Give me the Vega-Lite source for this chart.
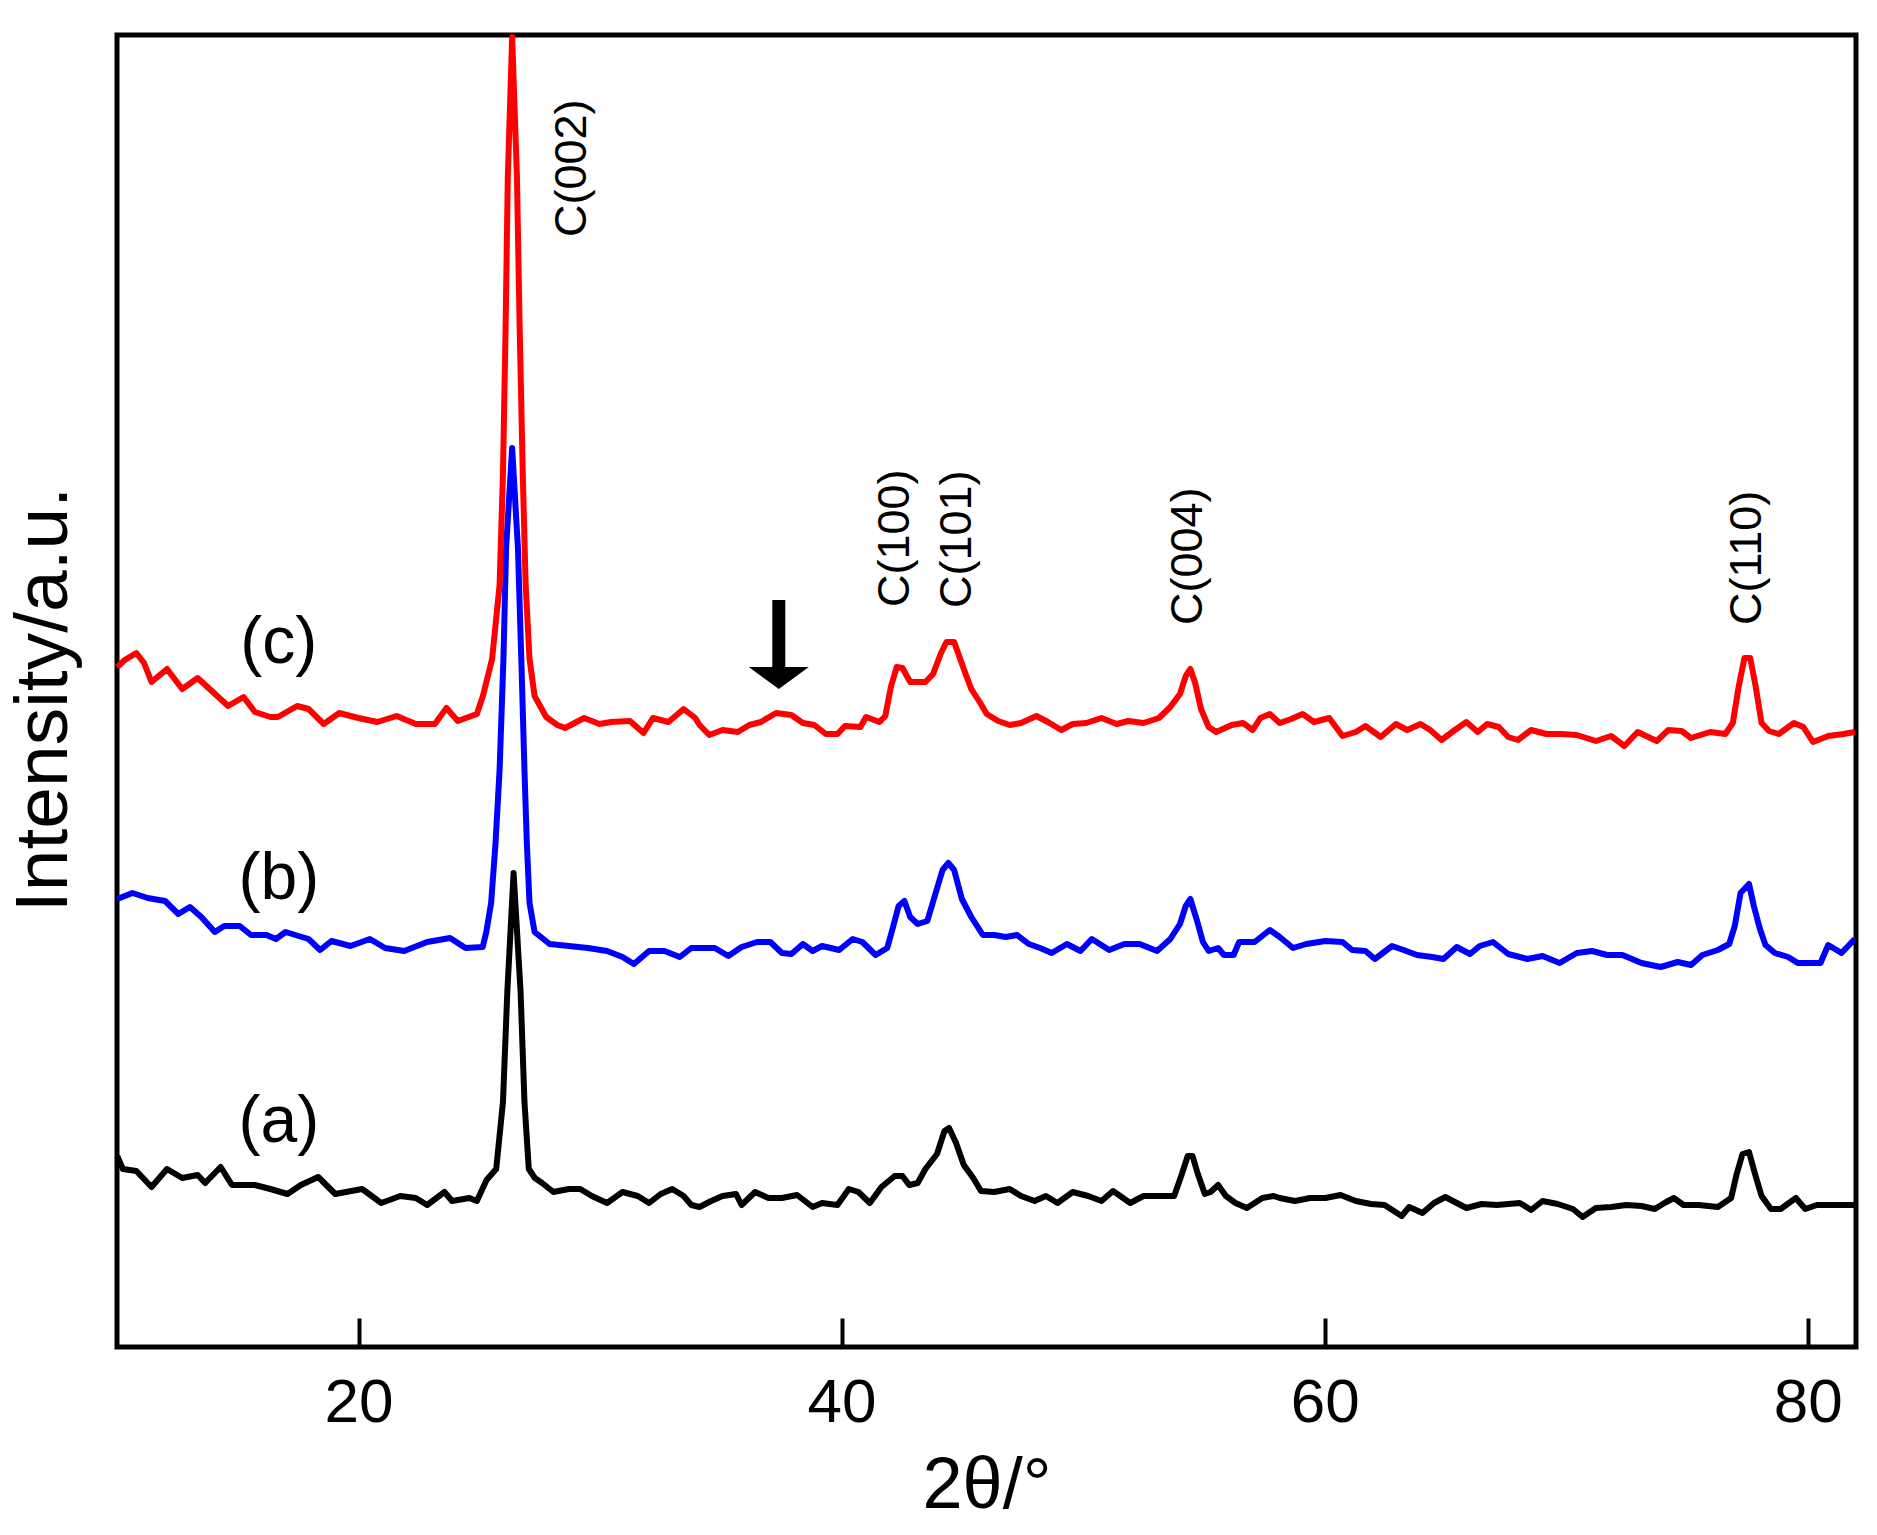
{
  "$schema": "https://vega.github.io/schema/vega-lite/v6.json",
  "description": "XRD patterns of three carbon samples (a), (b), (c)",
  "width": 1739,
  "height": 1312,
  "autosize": {"type": "none"},
  "padding": {"left": 117, "top": 35, "right": 21, "bottom": 188},
  "background": "white",
  "datasets": {
    "xrd": [
      {"s": "a", "x": 10.01, "y": 191}, {"s": "a", "x": 10.24, "y": 178}, {"s": "a", "x": 10.8, "y": 176}, {"s": "a", "x": 11.43, "y": 160},
      {"s": "a", "x": 12.07, "y": 178}, {"s": "a", "x": 12.7, "y": 169}, {"s": "a", "x": 13.34, "y": 172}, {"s": "a", "x": 13.65, "y": 164},
      {"s": "a", "x": 14.29, "y": 180}, {"s": "a", "x": 14.76, "y": 162}, {"s": "a", "x": 15.71, "y": 162}, {"s": "a", "x": 16.35, "y": 158},
      {"s": "a", "x": 17.06, "y": 153}, {"s": "a", "x": 17.61, "y": 162}, {"s": "a", "x": 18.33, "y": 170}, {"s": "a", "x": 19.04, "y": 153},
      {"s": "a", "x": 20.15, "y": 158}, {"s": "a", "x": 20.94, "y": 144}, {"s": "a", "x": 21.73, "y": 151}, {"s": "a", "x": 22.37, "y": 149},
      {"s": "a", "x": 22.84, "y": 142}, {"s": "a", "x": 23.56, "y": 155}, {"s": "a", "x": 23.87, "y": 146}, {"s": "a", "x": 24.59, "y": 149},
      {"s": "a", "x": 24.9, "y": 146}, {"s": "a", "x": 25.3, "y": 167}, {"s": "a", "x": 25.7, "y": 178}, {"s": "a", "x": 25.98, "y": 245},
      {"s": "a", "x": 26.16, "y": 355}, {"s": "a", "x": 26.42, "y": 474}, {"s": "a", "x": 26.71, "y": 355}, {"s": "a", "x": 26.87, "y": 245},
      {"s": "a", "x": 27.05, "y": 178}, {"s": "a", "x": 27.3, "y": 169}, {"s": "a", "x": 27.6, "y": 164},
      {"s": "a", "x": 28.07, "y": 155}, {"s": "a", "x": 28.71, "y": 158}, {"s": "a", "x": 29.18, "y": 158}, {"s": "a", "x": 29.66, "y": 151},
      {"s": "a", "x": 30.29, "y": 144}, {"s": "a", "x": 30.93, "y": 155}, {"s": "a", "x": 31.24, "y": 153}, {"s": "a", "x": 31.56, "y": 151},
      {"s": "a", "x": 32.03, "y": 144}, {"s": "a", "x": 32.51, "y": 153}, {"s": "a", "x": 32.99, "y": 158}, {"s": "a", "x": 33.46, "y": 151},
      {"s": "a", "x": 33.78, "y": 142}, {"s": "a", "x": 34.12, "y": 140}, {"s": "a", "x": 34.6, "y": 146}, {"s": "a", "x": 35.07, "y": 151},
      {"s": "a", "x": 35.63, "y": 153}, {"s": "a", "x": 35.86, "y": 142}, {"s": "a", "x": 36.42, "y": 155}, {"s": "a", "x": 36.97, "y": 149},
      {"s": "a", "x": 37.53, "y": 149}, {"s": "a", "x": 38.16, "y": 152}, {"s": "a", "x": 38.8, "y": 140}, {"s": "a", "x": 39.19, "y": 144},
      {"s": "a", "x": 39.83, "y": 142}, {"s": "a", "x": 40.3, "y": 158}, {"s": "a", "x": 40.7, "y": 155}, {"s": "a", "x": 41.17, "y": 144},
      {"s": "a", "x": 41.65, "y": 160}, {"s": "a", "x": 42.2, "y": 171}, {"s": "a", "x": 42.52, "y": 171}, {"s": "a", "x": 42.8, "y": 162},
      {"s": "a", "x": 43.15, "y": 164}, {"s": "a", "x": 43.47, "y": 178}, {"s": "a", "x": 43.95, "y": 193}, {"s": "a", "x": 44.26, "y": 216},
      {"s": "a", "x": 44.45, "y": 219}, {"s": "a", "x": 44.74, "y": 204}, {"s": "a", "x": 45.06, "y": 182}, {"s": "a", "x": 45.45, "y": 169},
      {"s": "a", "x": 45.77, "y": 156}, {"s": "a", "x": 46.32, "y": 155}, {"s": "a", "x": 46.96, "y": 158}, {"s": "a", "x": 47.43, "y": 151},
      {"s": "a", "x": 47.99, "y": 146}, {"s": "a", "x": 48.46, "y": 151}, {"s": "a", "x": 48.94, "y": 144}, {"s": "a", "x": 49.57, "y": 155},
      {"s": "a", "x": 50.21, "y": 151}, {"s": "a", "x": 50.76, "y": 146}, {"s": "a", "x": 51.24, "y": 156}, {"s": "a", "x": 51.95, "y": 144},
      {"s": "a", "x": 52.5, "y": 151}, {"s": "a", "x": 53.14, "y": 151}, {"s": "a", "x": 53.77, "y": 151}, {"s": "a", "x": 54.09, "y": 173},
      {"s": "a", "x": 54.33, "y": 191}, {"s": "a", "x": 54.53, "y": 191}, {"s": "a", "x": 54.75, "y": 173}, {"s": "a", "x": 55.04, "y": 153},
      {"s": "a", "x": 55.28, "y": 155}, {"s": "a", "x": 55.59, "y": 162}, {"s": "a", "x": 55.91, "y": 151}, {"s": "a", "x": 56.31, "y": 144},
      {"s": "a", "x": 56.78, "y": 139}, {"s": "a", "x": 57.42, "y": 149}, {"s": "a", "x": 57.89, "y": 151}, {"s": "a", "x": 58.14, "y": 149},
      {"s": "a", "x": 58.77, "y": 146}, {"s": "a", "x": 59.4, "y": 149}, {"s": "a", "x": 60.03, "y": 149}, {"s": "a", "x": 60.66, "y": 152},
      {"s": "a", "x": 61.29, "y": 146}, {"s": "a", "x": 61.92, "y": 143}, {"s": "a", "x": 62.48, "y": 142}, {"s": "a", "x": 63.19, "y": 131},
      {"s": "a", "x": 63.5, "y": 140}, {"s": "a", "x": 64.05, "y": 134}, {"s": "a", "x": 64.53, "y": 144}, {"s": "a", "x": 65.0, "y": 150},
      {"s": "a", "x": 65.47, "y": 144}, {"s": "a", "x": 65.87, "y": 139}, {"s": "a", "x": 66.5, "y": 143}, {"s": "a", "x": 67.13, "y": 142},
      {"s": "a", "x": 68.08, "y": 144}, {"s": "a", "x": 68.55, "y": 137}, {"s": "a", "x": 69.02, "y": 146}, {"s": "a", "x": 69.65, "y": 143},
      {"s": "a", "x": 70.28, "y": 138}, {"s": "a", "x": 70.68, "y": 130}, {"s": "a", "x": 71.23, "y": 139}, {"s": "a", "x": 71.86, "y": 140},
      {"s": "a", "x": 72.49, "y": 142}, {"s": "a", "x": 73.12, "y": 141}, {"s": "a", "x": 73.67, "y": 138}, {"s": "a", "x": 74.07, "y": 144},
      {"s": "a", "x": 74.46, "y": 149}, {"s": "a", "x": 74.86, "y": 142}, {"s": "a", "x": 75.49, "y": 142}, {"s": "a", "x": 76.28, "y": 140},
      {"s": "a", "x": 76.83, "y": 149}, {"s": "a", "x": 77.06, "y": 173}, {"s": "a", "x": 77.3, "y": 193}, {"s": "a", "x": 77.57, "y": 195},
      {"s": "a", "x": 77.82, "y": 173}, {"s": "a", "x": 78.09, "y": 151}, {"s": "a", "x": 78.48, "y": 138}, {"s": "a", "x": 78.88, "y": 138},
      {"s": "a", "x": 79.51, "y": 149}, {"s": "a", "x": 79.9, "y": 138}, {"s": "a", "x": 80.38, "y": 142}, {"s": "a", "x": 81.16, "y": 142},
      {"s": "a", "x": 81.95, "y": 142},

      {"s": "b", "x": 10.01, "y": 448}, {"s": "b", "x": 10.64, "y": 454}, {"s": "b", "x": 11.27, "y": 449}, {"s": "b", "x": 11.99, "y": 446},
      {"s": "b", "x": 12.54, "y": 433}, {"s": "b", "x": 13.02, "y": 440}, {"s": "b", "x": 13.49, "y": 430}, {"s": "b", "x": 14.05, "y": 415},
      {"s": "b", "x": 14.44, "y": 421}, {"s": "b", "x": 15.08, "y": 421}, {"s": "b", "x": 15.55, "y": 412}, {"s": "b", "x": 16.19, "y": 412},
      {"s": "b", "x": 16.58, "y": 408}, {"s": "b", "x": 16.98, "y": 415}, {"s": "b", "x": 17.93, "y": 408}, {"s": "b", "x": 18.41, "y": 397},
      {"s": "b", "x": 18.88, "y": 406}, {"s": "b", "x": 19.67, "y": 401}, {"s": "b", "x": 20.47, "y": 408}, {"s": "b", "x": 21.1, "y": 399},
      {"s": "b", "x": 21.89, "y": 396}, {"s": "b", "x": 22.84, "y": 405}, {"s": "b", "x": 23.79, "y": 409}, {"s": "b", "x": 24.43, "y": 399},
      {"s": "b", "x": 25.14, "y": 400}, {"s": "b", "x": 25.29, "y": 415}, {"s": "b", "x": 25.49, "y": 444}, {"s": "b", "x": 25.67, "y": 503},
      {"s": "b", "x": 25.84, "y": 577}, {"s": "b", "x": 26.0, "y": 688}, {"s": "b", "x": 26.11, "y": 799}, {"s": "b", "x": 26.36, "y": 899},
      {"s": "b", "x": 26.6, "y": 799}, {"s": "b", "x": 26.74, "y": 688}, {"s": "b", "x": 26.87, "y": 577}, {"s": "b", "x": 26.97, "y": 503},
      {"s": "b", "x": 27.08, "y": 444}, {"s": "b", "x": 27.29, "y": 415}, {"s": "b", "x": 27.91, "y": 403}, {"s": "b", "x": 28.71, "y": 401},
      {"s": "b", "x": 29.5, "y": 399},
      {"s": "b", "x": 30.29, "y": 396}, {"s": "b", "x": 30.93, "y": 390}, {"s": "b", "x": 31.4, "y": 383}, {"s": "b", "x": 32.03, "y": 396},
      {"s": "b", "x": 32.67, "y": 396}, {"s": "b", "x": 33.3, "y": 390}, {"s": "b", "x": 33.78, "y": 399}, {"s": "b", "x": 34.12, "y": 399},
      {"s": "b", "x": 34.75, "y": 399}, {"s": "b", "x": 35.31, "y": 391}, {"s": "b", "x": 35.86, "y": 400}, {"s": "b", "x": 36.5, "y": 405},
      {"s": "b", "x": 37.05, "y": 405}, {"s": "b", "x": 37.53, "y": 394}, {"s": "b", "x": 37.92, "y": 393}, {"s": "b", "x": 38.4, "y": 403},
      {"s": "b", "x": 38.8, "y": 396}, {"s": "b", "x": 39.19, "y": 401}, {"s": "b", "x": 39.9, "y": 397}, {"s": "b", "x": 40.46, "y": 408},
      {"s": "b", "x": 40.86, "y": 405}, {"s": "b", "x": 41.41, "y": 392}, {"s": "b", "x": 41.89, "y": 399}, {"s": "b", "x": 42.12, "y": 419},
      {"s": "b", "x": 42.36, "y": 441}, {"s": "b", "x": 42.6, "y": 446}, {"s": "b", "x": 42.84, "y": 430}, {"s": "b", "x": 43.15, "y": 423},
      {"s": "b", "x": 43.55, "y": 426}, {"s": "b", "x": 43.87, "y": 452}, {"s": "b", "x": 44.18, "y": 477}, {"s": "b", "x": 44.42, "y": 484},
      {"s": "b", "x": 44.66, "y": 477}, {"s": "b", "x": 44.98, "y": 448}, {"s": "b", "x": 45.37, "y": 430}, {"s": "b", "x": 45.85, "y": 412},
      {"s": "b", "x": 46.32, "y": 412}, {"s": "b", "x": 46.8, "y": 410}, {"s": "b", "x": 47.27, "y": 412}, {"s": "b", "x": 47.75, "y": 403},
      {"s": "b", "x": 48.22, "y": 399}, {"s": "b", "x": 48.7, "y": 394}, {"s": "b", "x": 49.33, "y": 403}, {"s": "b", "x": 49.89, "y": 396},
      {"s": "b", "x": 50.36, "y": 408}, {"s": "b", "x": 51.08, "y": 397}, {"s": "b", "x": 51.71, "y": 403}, {"s": "b", "x": 52.34, "y": 403},
      {"s": "b", "x": 53.06, "y": 396}, {"s": "b", "x": 53.61, "y": 408}, {"s": "b", "x": 54.01, "y": 423}, {"s": "b", "x": 54.25, "y": 441},
      {"s": "b", "x": 54.44, "y": 448}, {"s": "b", "x": 54.72, "y": 426}, {"s": "b", "x": 54.96, "y": 405}, {"s": "b", "x": 55.2, "y": 396},
      {"s": "b", "x": 55.59, "y": 399}, {"s": "b", "x": 55.83, "y": 392}, {"s": "b", "x": 56.23, "y": 392}, {"s": "b", "x": 56.46, "y": 405},
      {"s": "b", "x": 57.1, "y": 405}, {"s": "b", "x": 57.73, "y": 417}, {"s": "b", "x": 58.14, "y": 410}, {"s": "b", "x": 58.69, "y": 399},
      {"s": "b", "x": 59.24, "y": 403}, {"s": "b", "x": 60.03, "y": 406}, {"s": "b", "x": 60.74, "y": 405}, {"s": "b", "x": 61.14, "y": 397},
      {"s": "b", "x": 61.69, "y": 396}, {"s": "b", "x": 62.08, "y": 388}, {"s": "b", "x": 62.79, "y": 401}, {"s": "b", "x": 63.27, "y": 397},
      {"s": "b", "x": 63.82, "y": 392}, {"s": "b", "x": 64.45, "y": 390}, {"s": "b", "x": 64.92, "y": 388}, {"s": "b", "x": 65.47, "y": 400},
      {"s": "b", "x": 66.02, "y": 393}, {"s": "b", "x": 66.42, "y": 401}, {"s": "b", "x": 66.97, "y": 405}, {"s": "b", "x": 67.6, "y": 393},
      {"s": "b", "x": 68.39, "y": 388}, {"s": "b", "x": 69.02, "y": 391}, {"s": "b", "x": 69.73, "y": 384}, {"s": "b", "x": 70.44, "y": 394},
      {"s": "b", "x": 71.07, "y": 396}, {"s": "b", "x": 71.7, "y": 392}, {"s": "b", "x": 72.33, "y": 392}, {"s": "b", "x": 73.12, "y": 384},
      {"s": "b", "x": 73.91, "y": 380}, {"s": "b", "x": 74.62, "y": 385}, {"s": "b", "x": 75.17, "y": 382}, {"s": "b", "x": 75.64, "y": 392},
      {"s": "b", "x": 76.28, "y": 397}, {"s": "b", "x": 76.75, "y": 403}, {"s": "b", "x": 76.98, "y": 421}, {"s": "b", "x": 77.22, "y": 454},
      {"s": "b", "x": 77.57, "y": 463}, {"s": "b", "x": 77.77, "y": 441}, {"s": "b", "x": 78.01, "y": 419}, {"s": "b", "x": 78.25, "y": 402},
      {"s": "b", "x": 78.64, "y": 394}, {"s": "b", "x": 79.19, "y": 390}, {"s": "b", "x": 79.59, "y": 384}, {"s": "b", "x": 80.53, "y": 384},
      {"s": "b", "x": 80.85, "y": 402}, {"s": "b", "x": 81.4, "y": 394}, {"s": "b", "x": 81.95, "y": 408},

      {"s": "c", "x": 10.01, "y": 680}, {"s": "c", "x": 10.32, "y": 687}, {"s": "c", "x": 10.8, "y": 694}, {"s": "c", "x": 11.12, "y": 684},
      {"s": "c", "x": 11.43, "y": 665}, {"s": "c", "x": 12.07, "y": 678}, {"s": "c", "x": 12.7, "y": 658}, {"s": "c", "x": 13.34, "y": 669},
      {"s": "c", "x": 13.97, "y": 655}, {"s": "c", "x": 14.6, "y": 641}, {"s": "c", "x": 15.24, "y": 650}, {"s": "c", "x": 15.71, "y": 635},
      {"s": "c", "x": 16.35, "y": 630}, {"s": "c", "x": 16.66, "y": 630}, {"s": "c", "x": 17.46, "y": 641}, {"s": "c", "x": 17.93, "y": 638},
      {"s": "c", "x": 18.56, "y": 623}, {"s": "c", "x": 19.2, "y": 634}, {"s": "c", "x": 19.99, "y": 629}, {"s": "c", "x": 20.78, "y": 625},
      {"s": "c", "x": 21.58, "y": 631}, {"s": "c", "x": 22.37, "y": 623}, {"s": "c", "x": 23.16, "y": 623}, {"s": "c", "x": 23.64, "y": 639},
      {"s": "c", "x": 24.11, "y": 626}, {"s": "c", "x": 24.9, "y": 633}, {"s": "c", "x": 25.15, "y": 651}, {"s": "c", "x": 25.53, "y": 688},
      {"s": "c", "x": 25.84, "y": 762}, {"s": "c", "x": 25.98, "y": 873}, {"s": "c", "x": 26.09, "y": 1021}, {"s": "c", "x": 26.18, "y": 1169},
      {"s": "c", "x": 26.36, "y": 1310}, {"s": "c", "x": 26.56, "y": 1169}, {"s": "c", "x": 26.67, "y": 1021}, {"s": "c", "x": 26.8, "y": 873},
      {"s": "c", "x": 26.92, "y": 762}, {"s": "c", "x": 27.08, "y": 688}, {"s": "c", "x": 27.29, "y": 651}, {"s": "c", "x": 27.77, "y": 630},
      {"s": "c", "x": 28.23, "y": 622}, {"s": "c", "x": 28.55, "y": 619}, {"s": "c", "x": 29.34, "y": 629}, {"s": "c", "x": 29.98, "y": 623},
      {"s": "c", "x": 30.45, "y": 625}, {"s": "c", "x": 31.24, "y": 626}, {"s": "c", "x": 31.8, "y": 614}, {"s": "c", "x": 32.19, "y": 629},
      {"s": "c", "x": 32.83, "y": 625}, {"s": "c", "x": 33.46, "y": 638}, {"s": "c", "x": 33.94, "y": 629}, {"s": "c", "x": 34.12, "y": 622},
      {"s": "c", "x": 34.52, "y": 612}, {"s": "c", "x": 35.07, "y": 617}, {"s": "c", "x": 35.7, "y": 615}, {"s": "c", "x": 36.18, "y": 622},
      {"s": "c", "x": 36.66, "y": 625}, {"s": "c", "x": 37.29, "y": 634}, {"s": "c", "x": 37.92, "y": 632}, {"s": "c", "x": 38.4, "y": 624},
      {"s": "c", "x": 38.87, "y": 622}, {"s": "c", "x": 39.35, "y": 613}, {"s": "c", "x": 39.83, "y": 613}, {"s": "c", "x": 40.14, "y": 621},
      {"s": "c", "x": 40.78, "y": 620}, {"s": "c", "x": 41.01, "y": 630}, {"s": "c", "x": 41.57, "y": 625}, {"s": "c", "x": 41.81, "y": 631},
      {"s": "c", "x": 42.04, "y": 660}, {"s": "c", "x": 42.28, "y": 680}, {"s": "c", "x": 42.52, "y": 679}, {"s": "c", "x": 42.84, "y": 665},
      {"s": "c", "x": 43.47, "y": 665}, {"s": "c", "x": 43.79, "y": 673}, {"s": "c", "x": 44.1, "y": 693}, {"s": "c", "x": 44.34, "y": 705},
      {"s": "c", "x": 44.66, "y": 705}, {"s": "c", "x": 45.06, "y": 678}, {"s": "c", "x": 45.37, "y": 658}, {"s": "c", "x": 45.69, "y": 646},
      {"s": "c", "x": 46.01, "y": 633}, {"s": "c", "x": 46.48, "y": 626}, {"s": "c", "x": 46.96, "y": 622}, {"s": "c", "x": 47.43, "y": 624},
      {"s": "c", "x": 48.07, "y": 631}, {"s": "c", "x": 48.54, "y": 625}, {"s": "c", "x": 49.1, "y": 617}, {"s": "c", "x": 49.57, "y": 623},
      {"s": "c", "x": 50.13, "y": 624}, {"s": "c", "x": 50.76, "y": 629}, {"s": "c", "x": 51.39, "y": 623}, {"s": "c", "x": 51.87, "y": 626},
      {"s": "c", "x": 52.5, "y": 624}, {"s": "c", "x": 53.14, "y": 629}, {"s": "c", "x": 53.61, "y": 640}, {"s": "c", "x": 54.01, "y": 653},
      {"s": "c", "x": 54.25, "y": 671}, {"s": "c", "x": 54.44, "y": 678}, {"s": "c", "x": 54.64, "y": 664}, {"s": "c", "x": 54.88, "y": 638},
      {"s": "c", "x": 55.2, "y": 620}, {"s": "c", "x": 55.51, "y": 615}, {"s": "c", "x": 56.15, "y": 622}, {"s": "c", "x": 56.62, "y": 624},
      {"s": "c", "x": 57.02, "y": 617}, {"s": "c", "x": 57.34, "y": 629}, {"s": "c", "x": 57.73, "y": 633}, {"s": "c", "x": 58.14, "y": 624},
      {"s": "c", "x": 58.61, "y": 628}, {"s": "c", "x": 59.09, "y": 633}, {"s": "c", "x": 59.56, "y": 625}, {"s": "c", "x": 60.19, "y": 629},
      {"s": "c", "x": 60.74, "y": 611}, {"s": "c", "x": 61.29, "y": 615}, {"s": "c", "x": 61.69, "y": 621}, {"s": "c", "x": 62.32, "y": 610},
      {"s": "c", "x": 62.95, "y": 623}, {"s": "c", "x": 63.42, "y": 617}, {"s": "c", "x": 63.97, "y": 623}, {"s": "c", "x": 64.37, "y": 617},
      {"s": "c", "x": 64.84, "y": 607}, {"s": "c", "x": 65.39, "y": 617}, {"s": "c", "x": 65.87, "y": 625}, {"s": "c", "x": 66.34, "y": 615},
      {"s": "c", "x": 66.73, "y": 623}, {"s": "c", "x": 67.21, "y": 620}, {"s": "c", "x": 67.6, "y": 610}, {"s": "c", "x": 68.0, "y": 607},
      {"s": "c", "x": 68.55, "y": 617}, {"s": "c", "x": 69.18, "y": 613}, {"s": "c", "x": 69.81, "y": 613}, {"s": "c", "x": 70.44, "y": 612},
      {"s": "c", "x": 71.23, "y": 606}, {"s": "c", "x": 71.86, "y": 611}, {"s": "c", "x": 72.41, "y": 601}, {"s": "c", "x": 72.96, "y": 615},
      {"s": "c", "x": 73.75, "y": 606}, {"s": "c", "x": 74.23, "y": 617}, {"s": "c", "x": 74.78, "y": 616}, {"s": "c", "x": 75.17, "y": 609},
      {"s": "c", "x": 75.96, "y": 615}, {"s": "c", "x": 76.59, "y": 613}, {"s": "c", "x": 76.9, "y": 624}, {"s": "c", "x": 77.14, "y": 660},
      {"s": "c", "x": 77.38, "y": 689}, {"s": "c", "x": 77.62, "y": 689}, {"s": "c", "x": 77.85, "y": 660}, {"s": "c", "x": 78.09, "y": 624},
      {"s": "c", "x": 78.4, "y": 616}, {"s": "c", "x": 78.8, "y": 613}, {"s": "c", "x": 79.43, "y": 624}, {"s": "c", "x": 79.82, "y": 620},
      {"s": "c", "x": 80.22, "y": 605}, {"s": "c", "x": 80.85, "y": 611}, {"s": "c", "x": 81.48, "y": 613}, {"s": "c", "x": 81.95, "y": 615}
    ],
    "peaks": [
      {"x": 28.85, "y": 1110, "label": "C(002)"},
      {"x": 42.23, "y": 740, "label": "C(100)"},
      {"x": 44.77, "y": 739, "label": "C(101)"},
      {"x": 54.36, "y": 722, "label": "C(004)"},
      {"x": 77.5, "y": 722, "label": "C(110)"}
    ],
    "series": [
      {"x": 16.7, "y": 225, "label": "(a)"},
      {"x": 16.7, "y": 468, "label": "(b)"},
      {"x": 16.7, "y": 704, "label": "(c)"}
    ],
    "arrow": [
      {"x": 37.4, "y": 747, "y2": 675, "head": 669}
    ]
  },
  "encoding": {
    "x": {
      "field": "x",
      "type": "quantitative",
      "scale": {"domain": [10, 82], "nice": false, "zero": false},
      "axis": {
        "values": [20, 40, 60, 80],
        "title": "2θ/°",
        "grid": false,
        "domain": false,
        "offset": -29,
        "tickColor": "black",
        "tickWidth": 4,
        "tickSize": 29,
        "labelFontSize": 62,
        "labelColor": "black",
        "labelPadding": 25,
        "titleFontSize": 72,
        "titleFontWeight": "normal",
        "titleColor": "black",
        "titleBaseline": "top",
        "titleY": 132
      }
    },
    "y": {
      "field": "y",
      "type": "quantitative",
      "scale": {"domain": [0, 1312], "nice": false},
      "axis": {
        "title": "Intensity/a.u.",
        "labels": false,
        "ticks": false,
        "domain": false,
        "grid": false,
        "titleFontSize": 75,
        "titleFontWeight": "normal",
        "titleColor": "black",
        "titleAngle": 270,
        "titleAlign": "center",
        "titleBaseline": "alphabetic",
        "titleX": -51,
        "titleY": 664
      }
    }
  },
  "layer": [
    {
      "data": {"name": "xrd"},
      "mark": {"type": "line", "strokeWidth": 6, "strokeJoin": "round", "clip": false},
      "encoding": {
        "color": {
          "field": "s",
          "type": "nominal",
          "scale": {"domain": ["a", "b", "c"], "range": ["#000000", "#0000ff", "#ff0000"]},
          "legend": null
        },
        "order": {"field": "x", "type": "quantitative"}
      }
    },
    {
      "data": {"name": "peaks"},
      "mark": {"type": "text", "angle": 270, "align": "left", "baseline": "middle", "fontSize": 45, "color": "black"},
      "encoding": {"text": {"field": "label"}}
    },
    {
      "data": {"name": "series"},
      "mark": {"type": "text", "align": "center", "baseline": "middle", "fontSize": 66, "color": "black"},
      "encoding": {"text": {"field": "label"}}
    },
    {
      "data": {"name": "arrow"},
      "mark": {"type": "rule", "strokeWidth": 13, "strokeCap": "butt", "color": "black"},
      "encoding": {"y2": {"field": "y2"}}
    },
    {
      "data": {"name": "arrow"},
      "mark": {"type": "point", "shape": "M-1,-0.367L1,-0.367L0,0.367Z", "size": 3600, "filled": true, "color": "black", "opacity": 1},
      "encoding": {"y": {"field": "head", "type": "quantitative"}}
    }
  ],
  "config": {
    "font": "Liberation Sans",
    "view": {"stroke": "black", "strokeWidth": 5}
  }
}
